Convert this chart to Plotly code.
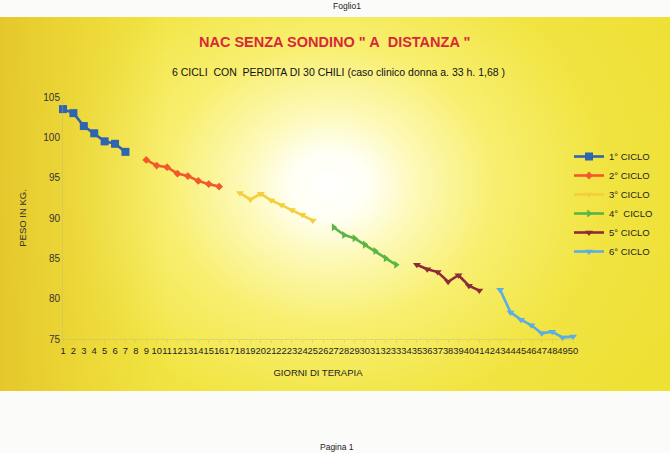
import base64
import plotly.graph_objects as go

# ---------------- data ----------------
days = list(range(1, 51))
day_labels = [str(d) for d in days]

names = ["1° CICLO", "2° CICLO", "3° CICLO", "4°  CICLO", "5° CICLO", "6° CICLO"]
days_c1 = [1, 2, 3, 4, 5, 6, 7]
peso_c1 = [103.5, 103.0, 101.4, 100.5, 99.5, 99.2, 98.2]
days_c2 = [9, 10, 11, 12, 13, 14, 15, 16]
peso_c2 = [97.2, 96.5, 96.3, 95.5, 95.2, 94.6, 94.2, 93.9]
days_c3 = [18, 19, 20, 21, 22, 23, 24, 25]
peso_c3 = [93.1, 92.3, 93.0, 92.2, 91.6, 91.0, 90.4, 89.7]
days_c4 = [27, 28, 29, 30, 31, 32, 33]
peso_c4 = [88.85, 87.9, 87.5, 86.7, 85.9, 85.0, 84.2]
days_c5 = [35, 36, 37, 38, 39, 40, 41]
peso_c5 = [84.2, 83.65, 83.3, 82.1, 82.9, 81.6, 81.0]
days_c6 = [43, 44, 45, 46, 47, 48, 49, 50]
peso_c6 = [81.1, 78.3, 77.4, 76.7, 75.7, 75.9, 75.2, 75.3]

y_ticks = [75, 80, 85, 90, 95, 100, 105]

# ---------------- styles ----------------
colors = ["#2f64ae", "#f2592a", "#f3cf3a", "#5bb544", "#8e2b38", "#5aaee3"]
symbols = ["square", "diamond", "triangle-down", "triangle-right", "triangle-down", "triangle-down"]
msizes = [8, 6, 7, 7, 7, 7]

series_x = [days_c1, days_c2, days_c3, days_c4, days_c5, days_c6]
series_y = [peso_c1, peso_c2, peso_c3, peso_c4, peso_c5, peso_c6]

fig = go.Figure()
for i in range(6):
    fig.add_trace(go.Scatter(
        x=series_x[i], y=series_y[i], name=names[i], mode="lines+markers",
        line=dict(color=colors[i], width=2.6),
        marker=dict(symbol=symbols[i], size=msizes[i], color=colors[i]),
        cliponaxis=False,
    ))

# background: yellow with a white radial glow (SVG as layout image)
svg = """<svg xmlns='http://www.w3.org/2000/svg' width='670' height='374' viewBox='0 0 670 374' preserveAspectRatio='none'>
<defs>
<radialGradient id='g' gradientUnits='userSpaceOnUse' cx='330' cy='168' r='390' gradientTransform='translate(330 168) scale(1 0.85) translate(-330 -168)'>
<stop offset='0' stop-color='#ffffff'/>
<stop offset='0.10' stop-color='#fffff4'/>
<stop offset='0.22' stop-color='#fdf9b8'/>
<stop offset='0.42' stop-color='#f8ef70'/>
<stop offset='0.7' stop-color='#f1e442'/>
<stop offset='1' stop-color='#efe034'/>
</radialGradient>
<linearGradient id='l' x1='0' y1='0' x2='1' y2='0'>
<stop offset='0' stop-color='#e2bf28' stop-opacity='0.75'/>
<stop offset='0.25' stop-color='#e8cc30' stop-opacity='0'/>
<stop offset='1' stop-color='#e8cc30' stop-opacity='0'/>
</linearGradient>
</defs>
<rect width='670' height='374' fill='url(#g)'/>
<rect width='670' height='374' fill='url(#l)'/>
</svg>"""
src = "data:image/svg+xml;base64," + base64.b64encode(svg.encode()).decode()

L, R, T, B = 63, 97, 97, 114
W, H = 670, 453
pw, ph = W - L - R, H - T - B

def px(xp):
    return (xp - L) / pw

def py(yp):
    return (H - B - yp) / ph

fig.add_layout_image(dict(
    source=src, xref="paper", yref="paper",
    x=px(0), y=py(17), sizex=W / pw, sizey=374 / ph,
    xanchor="left", yanchor="top", sizing="stretch", layer="below",
))

font_family = "Liberation Sans, Arial, sans-serif"

fig.update_layout(
    width=W, height=H,
    margin=dict(l=L, r=R, t=T, b=B, autoexpand=False),
    paper_bgcolor="#fbfbf9",
    plot_bgcolor="rgba(0,0,0,0)",
    font=dict(family=font_family, color="#222222"),
    showlegend=True,
    legend=dict(
        x=px(569), xanchor="left", y=py(204), yanchor="middle",
        bgcolor="rgba(0,0,0,0)", font=dict(size=9.5, color="#222222"),
        itemwidth=30, tracegroupgap=0,
    ),
    xaxis=dict(
        range=[1, 50], tickmode="array", tickvals=days, ticktext=day_labels,
        tickangle=0, tickfont=dict(size=9.4, color="#222222"),
        showgrid=False, zeroline=False,
        showline=True, linecolor="rgba(190,180,120,0.35)", linewidth=1,
        ticks="outside", ticklen=3, tickcolor="rgba(190,180,120,0.35)",
        title=dict(text="GIORNI DI TERAPIA", font=dict(size=9.5, color="#222222"), standoff=14),
        automargin=False,
    ),
    yaxis=dict(
        range=[75, 105], tickmode="array", tickvals=y_ticks,
        tickfont=dict(size=10, color="#333333"),
        showgrid=False, zeroline=False,
        showline=True, linecolor="rgba(190,180,120,0.35)", linewidth=1,
        ticks="", title=dict(text="PESO IN KG.", font=dict(size=9.5, color="#333333"), standoff=14),
        automargin=False,
    ),
)

anns = [
    dict(text="NAC SENZA SONDINO \" A\u00a0 DISTANZA \"", x=px(334), y=py(42),
         font=dict(size=14.5, color="#d8283a", family="Liberation Sans, Arial, sans-serif", weight="bold")),
    dict(text="6 CICLI\u00a0 CON\u00a0 PERDITA DI 30 CHILI (caso clinico donna a. 33 h. 1,68 )", x=px(338), y=py(72),
         font=dict(size=10.5, color="#111111")),
    dict(text="Foglio1", x=px(347), y=py(6), font=dict(size=8.5, color="#222222")),
    dict(text="Pagina 1", x=px(337), y=py(447), font=dict(size=8.5, color="#222222")),
]
for a in anns:
    fig.add_annotation(xref="paper", yref="paper", showarrow=False,
                       xanchor="center", yanchor="middle", **a)

fig.write_html("out.html", config={"displayModeBar": False},
               post_script="document.body.style.margin='0';document.body.style.overflow='hidden';")
